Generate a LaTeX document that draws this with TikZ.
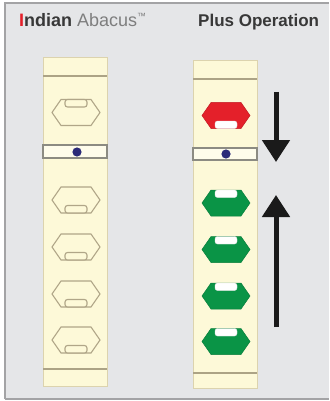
\documentclass[tikz,border=0pt]{standalone}
\usepackage{fontspec}
\setmainfont{Liberation Sans}
\usetikzlibrary{arrows.meta}
\definecolor{bgray}{HTML}{E5E6E8}
\definecolor{frameline}{HTML}{A3A3A5}
\definecolor{cream}{HTML}{FDF9D8}
\definecolor{creamedge}{HTML}{DCD3AE}
\definecolor{rodline}{HTML}{ACA385}
\definecolor{beadedge}{HTML}{B0A688}
\definecolor{barline}{HTML}{8C8B82}
\definecolor{dotblue}{HTML}{2B2A78}
\definecolor{beadred}{HTML}{E4202A}
\definecolor{beadgreen}{HTML}{0A9446}
\definecolor{textdark}{HTML}{383838}
\definecolor{textgray}{HTML}{7E7E7E}
\definecolor{arrowblack}{HTML}{1A1A1A}
\tikzset{
  rodbox/.style={fill=cream,draw=creamedge,line width=0.6pt},
  rodrule/.style={draw=rodline,line width=1.1pt},
  barbox/.style={fill=cream!50!white,draw=barline,line width=1.7pt},
  dotstyle/.style={fill=dotblue,draw=none},
  plainbead/.style={fill=cream,draw=beadedge,line width=1.1pt},
  redbead/.style={fill=beadred,draw=beadred!85!black,line width=0.5pt},
  greenbead/.style={fill=beadgreen,draw=beadgreen!85!black,line width=0.5pt},
  slotplain/.style={fill=cream,draw=beadedge,line width=1.1pt,rounded corners=2.5pt},
  slotwhite/.style={fill=white,draw=white!80!gray,line width=0.4pt,rounded corners=2.5pt},
  movearrow/.style={draw=arrowblack,line width=5pt,-{Triangle[width=27pt,length=22pt]}},
  beadtop/.pic={
    \path[pic actions] (-24,0) -- (-15,-13) -- (15,-13) -- (24,0) -- (15,13) -- (-15,13) -- cycle;
    \path[/tikz/slot] (-11,-13) rectangle (11,-5.5);
  },
  beadbot/.pic={
    \path[pic actions] (-24,0) -- (-15,-13) -- (15,-13) -- (24,0) -- (15,13) -- (-15,13) -- cycle;
    \path[/tikz/slot] (-11,5.5) rectangle (11,13);
  },
  slot/.style={slotplain}
}
\begin{document}
\begin{tikzpicture}[x=1pt,y=-1pt]
\useasboundingbox (0,0) rectangle (329,401);
% frame
\fill[white] (0,0) rectangle (329,401);
\fill[bgray] (5,3) rectangle (329,399);
\draw[frameline,line width=1.8pt] (5,399) -- (5,3) -- (329,3);
\draw[frameline,line width=1.8pt] (5,399) -- (329,399);
% titles
\node[anchor=base west,inner sep=0pt] (title) at (19,27)
  {\fontsize{18}{18}\selectfont\textbf{\textcolor{beadred}{I}\textcolor{textdark}{ndian}} \textcolor{textgray}{Abacus}\raisebox{7pt}{\fontsize{9}{9}\selectfont\textcolor{textgray}{™}}};
\node[anchor=base west,inner sep=0pt,text=textdark] (op) at (198,27)
  {\fontsize{17}{17}\selectfont\textbf{Plus Operation}};
% left rod
\path[rodbox] (43,57) rectangle (107,386);
\draw[rodrule] (43,76) -- (107,76);
\draw[rodrule] (43,369) -- (107,369);
\path[barbox] (43,145) rectangle (107,158);
\fill[dotstyle] (77,152) circle (4.6);
\pic[plainbead] at (76,112.5) {beadtop};
\pic[plainbead] at (76,200) {beadbot};
\pic[plainbead] at (76,247) {beadbot};
\pic[plainbead] at (76,294) {beadbot};
\pic[plainbead] at (76,340) {beadbot};
% right rod
\path[rodbox] (193,60) rectangle (257,388);
\draw[rodrule] (193,79) -- (257,79);
\draw[rodrule] (193,373) -- (257,373);
\path[barbox] (193,148) rectangle (257,160);
\fill[dotstyle] (226,154) circle (4.6);
\begin{scope}[slot/.style={slotwhite}]
\pic[redbead] at (226,115.5) {beadbot};
\pic[greenbead] at (226,203) {beadtop};
\pic[greenbead] at (226,249.5) {beadtop};
\pic[greenbead] at (226,296) {beadtop};
\pic[greenbead] at (226,341.5) {beadtop};
\end{scope}
% arrows
\coordinate (downstart) at (276,92);
\coordinate (downend) at (276,162);
\coordinate (upstart) at (276,327);
\coordinate (upend) at (276,195);
\draw[movearrow] (downstart) -- (downend);
\draw[movearrow] (upstart) -- (upend);
\end{tikzpicture}
\end{document}
